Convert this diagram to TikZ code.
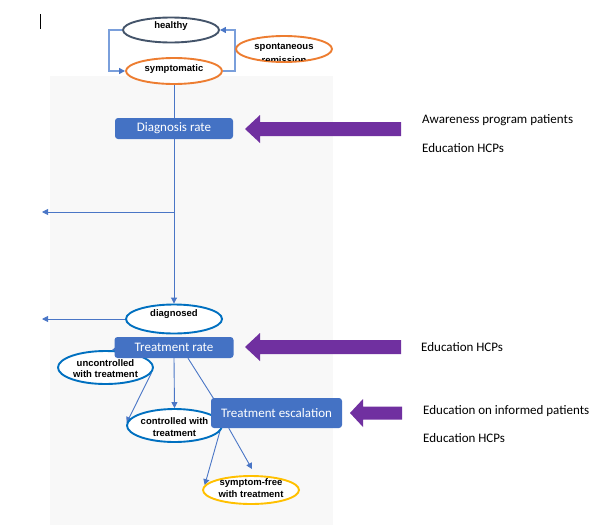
\documentclass[tikz,border=0pt]{standalone}
\usepackage{fontspec}
\setmainfont{Liberation Sans}
\newfontfamily\calfont{Carlito}
\usetikzlibrary{shapes.geometric,arrows.meta,backgrounds}
\definecolor{bgc}{HTML}{F8F8F8}
\definecolor{navy}{HTML}{44546A}
\definecolor{orng}{HTML}{ED7D31}
\definecolor{oblue}{HTML}{0070C0}
\definecolor{gold}{HTML}{FFC000}
\definecolor{boxblue}{HTML}{4472C4}
\definecolor{purp}{HTML}{7030A0}
\definecolor{conncol}{HTML}{4A76C6}
\definecolor{loopcol}{HTML}{7A9FDB}
\tikzset{
  ell/.style={ellipse,draw,fill=white,line width=1.9pt,inner sep=0pt},
  lab/.style={font=\fontsize{9.5}{11.5}\selectfont\bfseries,align=center,inner sep=0pt},
  bluebox/.style={rectangle,rounded corners=3pt,fill=boxblue,text=white,font=\calfont\fontsize{13}{15}\selectfont,inner sep=0pt},
  conn/.style={draw=conncol,line width=0.9pt},
  arr/.style={conn,-{Triangle[length=6pt,width=6pt]}},
  loopline/.style={draw=loopcol,line width=1.4pt,-{Triangle[length=6pt,width=6pt,fill=conncol,color=conncol]}},
  sidetext/.style={anchor=west,font=\calfont\fontsize{13}{15}\selectfont,inner sep=0pt},
}
\begin{document}
\begin{tikzpicture}[x=1pt,y=-1pt]
\useasboundingbox (0,0) rectangle (610,525);
\draw[black,line width=0.8pt] (40,14) -- (40,29);

% ellipses
\node[ell,draw=navy,minimum width=96pt,minimum height=25pt] (healthy) at (171,30) {};
\node[lab] at ([yshift=4pt]healthy.center) {healthy};
\node[ell,draw=orng,minimum width=96pt,minimum height=26pt] (sympt) at (174,71) {};
\node[lab] at ([yshift=2pt]sympt.center) {symptomatic};
\node[ell,draw=orng,minimum width=96pt,minimum height=26pt] (spont) at (284,49) {};
\begin{scope}
  \clip (284,49) ellipse (47pt and 12pt);
  \node[lab] at (284,47) {spontaneous};
  \node[lab] at (284,60) {remission};
\end{scope}

\node[bluebox,minimum width=118pt,minimum height=21pt] (diag) at (174,128.5) {Diagnosis rate};

\node[ell,draw=oblue,minimum width=96pt,minimum height=29pt] (diagnosed) at (174,319) {};
\node[lab] at ([yshift=5pt]diagnosed.center) {diagnosed};

\node[ell,draw=oblue,minimum width=95pt,minimum height=33pt] (unc) at (105.5,367.5) {};
\node[lab] at ([yshift=-1pt]unc.center) {uncontrolled\\with treatment};

\node[ell,draw=oblue,minimum width=95pt,minimum height=33pt] (ctrl) at (174.5,425.5) {};
\node[lab] at ([yshift=-1.5pt]ctrl.center) {controlled with\\treatment};

\node[ell,draw=gold,minimum width=96pt,minimum height=28pt] (sf) at (251,490) {};
\node[lab] at ([yshift=2pt]sf.center) {symptom-free\\with treatment};

\node[bluebox,minimum width=119pt,minimum height=21pt] (treat) at (174,347.5) {Treatment rate};
\node[bluebox,minimum width=131pt,minimum height=30pt] (esc) at (276.5,413) {Treatment escalation};

\coordinate (br) at (174,212);
\coordinate (brL) at (42,212);

% connectors behind nodes
\begin{scope}[on background layer]
  \fill[bgc] (50,76) rectangle (333,525);
  \draw[loopline] (healthy.west) -- ++(-13,0) |- (sympt.west);
  \draw[loopline] (sympt.east) -- ++(12,0) |- (healthy.east);
  \draw[conn] (sympt.south) -- (diag.north);
  \draw[arr] (diag.south) -- (diagnosed.north);
  \draw[arr] (br) -- (brL);
  \draw[arr] (diagnosed.west) -- (diagnosed.west -| brL);
  \draw[arr] ([xshift=10pt]treat.west) -- (unc.70);
  \draw[arr] (treat.south) -- (ctrl.north);
  \draw[arr] (unc.-7) -- (ctrl.177);
  \draw[arr] ([xshift=14pt]treat.south) -- ([xshift=8pt,yshift=-9pt]esc.north west);
  \draw[arr] ([xshift=10pt]esc.south west) -- (sf.174);
  \draw[arr] ([xshift=18pt]esc.south west) -- ([xshift=1pt,yshift=6pt]sf.north);
\end{scope}

% purple block arrows
\fill[purp] (245,129) -- (260,115) -- (260,122) -- (401,122) -- (401,136) -- (260,136) -- (260,143) -- cycle;
\fill[purp] (245,347) -- (260,333) -- (260,340) -- (401,340) -- (401,354) -- (260,354) -- (260,361) -- cycle;
\fill[purp] (350,413) -- (363,399) -- (363,406.5) -- (402,406.5) -- (402,419.5) -- (363,419.5) -- (363,427) -- cycle;

% side texts
\node[sidetext] (t1) at (422,120) {Awareness program patients};
\node[sidetext] (t2) at (422,148) {Education HCPs};
\node[sidetext] (t3) at (421,347) {Education HCPs};
\node[sidetext] (t4) at (423,411) {Education on informed patients};
\node[sidetext] (t5) at (423,438) {Education HCPs};
\end{tikzpicture}
\end{document}
